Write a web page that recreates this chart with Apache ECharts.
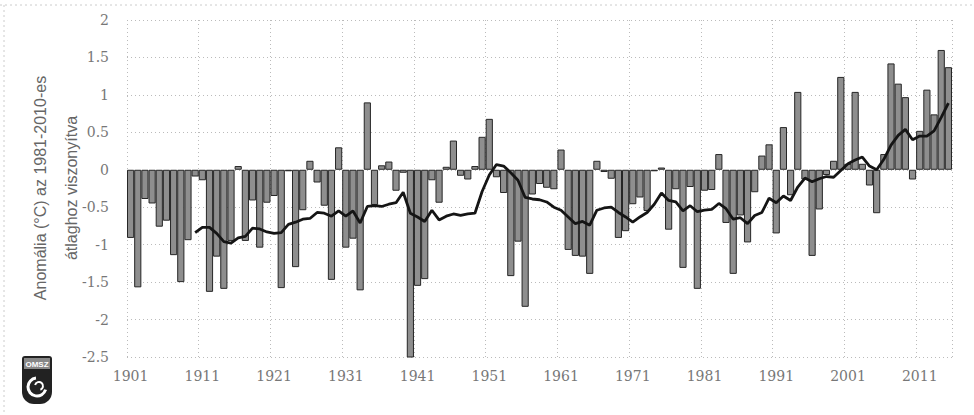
<!DOCTYPE html>
<html>
<head>
<meta charset="utf-8">
<title>Hőmérsékleti anomália 1901-2015</title>
<script src="https://cdn.jsdelivr.net/npm/echarts@6/dist/echarts.min.js"></script>
<style>
  html, body { margin: 0; padding: 0; background: #fff; }
  #chart { width: 974px; height: 415px; }
</style>
</head>
<body>
<div id="chart"></div>
<script>
// évek (kategóriák)
const years = [
  '1901','1902','1903','1904','1905','1906','1907','1908','1909','1910',
  '1911','1912','1913','1914','1915','1916','1917','1918','1919','1920',
  '1921','1922','1923','1924','1925','1926','1927','1928','1929','1930',
  '1931','1932','1933','1934','1935','1936','1937','1938','1939','1940',
  '1941','1942','1943','1944','1945','1946','1947','1948','1949','1950',
  '1951','1952','1953','1954','1955','1956','1957','1958','1959','1960',
  '1961','1962','1963','1964','1965','1966','1967','1968','1969','1970',
  '1971','1972','1973','1974','1975','1976','1977','1978','1979','1980',
  '1981','1982','1983','1984','1985','1986','1987','1988','1989','1990',
  '1991','1992','1993','1994','1995','1996','1997','1998','1999','2000',
  '2001','2002','2003','2004','2005','2006','2007','2008','2009','2010',
  '2011','2012','2013','2014','2015'
];

// évi anomália (°C), 1981-2010-hez képest
const anomaly = [
  -0.91, -1.57, -0.39, -0.45, -0.76, -0.68, -1.14, -1.50, -0.94, -0.09,
  -0.14, -1.63, -1.16, -1.59, -0.95,  0.05, -0.95, -0.41, -1.04, -0.44,
  -0.35, -1.58, -0.02, -1.30, -0.54,  0.12, -0.17, -0.48, -1.47,  0.30,
  -1.04, -0.92, -1.61,  0.90, -0.47,  0.06,  0.11, -0.28, -0.04, -2.51,
  -1.55, -1.46, -0.14, -0.44,  0.04,  0.39, -0.08, -0.13,  0.05,  0.44,
   0.68, -0.10, -0.31, -1.42, -0.96, -1.83, -0.33, -0.19, -0.24, -0.26,
   0.27, -1.07, -1.15, -1.16, -1.39,  0.12, -0.03, -0.12, -0.91, -0.82,
  -0.46, -0.37, -0.55, -0.02,  0.03, -0.80, -0.26, -1.31, -0.23, -1.59,
  -0.28, -0.27,  0.21, -0.71, -1.39, -0.61, -0.97, -0.30,  0.19,  0.34,
  -0.85,  0.57, -0.34,  1.04, -0.13, -1.15, -0.53, -0.07,  0.12,  1.24,
   0.08,  1.04,  0.08, -0.21, -0.58,  0.21,  1.42,  1.15,  0.97, -0.13,
   0.52,  1.07,  0.74,  1.60,  1.37
];

// 10 éves mozgóátlag (fekete vonal), 1910-től
const movingAvg = [
   null,  null,  null,  null,  null,  null,  null,  null,  null, -0.84,
  -0.77, -0.77, -0.85, -0.96, -0.98, -0.91, -0.89, -0.78, -0.79, -0.83,
  -0.85, -0.84, -0.73, -0.70, -0.66, -0.65, -0.57, -0.58, -0.62, -0.55,
  -0.62, -0.55, -0.71, -0.49, -0.48, -0.49, -0.46, -0.44, -0.30, -0.58,
  -0.63, -0.69, -0.54, -0.67, -0.62, -0.59, -0.61, -0.59, -0.58, -0.29,
  -0.07,  0.07,  0.05, -0.04, -0.14, -0.37, -0.39, -0.40, -0.43, -0.50,
  -0.54, -0.63, -0.72, -0.69, -0.74, -0.54, -0.51, -0.50, -0.57, -0.63,
  -0.70, -0.63, -0.57, -0.46, -0.31, -0.41, -0.43, -0.55, -0.48, -0.56,
  -0.54, -0.53, -0.45, -0.52, -0.66, -0.64, -0.72, -0.61, -0.57, -0.38,
  -0.44, -0.35, -0.41, -0.23, -0.11, -0.16, -0.12, -0.09, -0.10, -0.01,
   0.08,  0.13,  0.17,  0.05,  0.00,  0.14,  0.33,  0.46,  0.54,  0.40,
   0.45,  0.45,  0.52,  0.70,  0.89
];

// feliratozott évek az x tengelyen
const xLabels = ['1901','1911','1921','1931','1941','1951','1961','1971','1981','1991','2001','2011'];

const tickFont = 'DejaVu Serif';
const showEvery = (idx, value) => xLabels.indexOf(value) !== -1;

const chart = echarts.init(document.getElementById('chart'), null, { renderer: 'svg' });

const option = {
  animation: false,
  backgroundColor: '#fff',
  grid: { left: 127, right: 22, top: 20, bottom: 58 },
  xAxis: {
    type: 'category',
    data: years,
    boundaryGap: true,
    axisLine: { show: false, onZero: false },
    axisTick: { show: false },
    axisLabel: {
      interval: showEvery,
      margin: 12,
      color: '#777',
      fontFamily: tickFont,
      fontSize: 14
    },
    splitLine: {
      show: true,
      interval: showEvery,
      lineStyle: { color: '#bbb', type: [1, 3], width: 1 }
    }
  },
  yAxis: {
    type: 'value',
    min: -2.5,
    max: 2,
    interval: 0.5,
    axisLine: { show: false },
    axisTick: { show: false },
    axisLabel: {
      margin: 18,
      color: '#777',
      fontFamily: tickFont,
      fontSize: 14
    },
    splitLine: {
      lineStyle: { color: '#bbb', type: [1, 3], width: 1 }
    }
  },
  graphic: [
    // külső pontozott keret
    { type: 'line', shape: { x1: 0, y1: 5, x2: 974, y2: 5 },
      style: { stroke: '#ccc', lineDash: [2, 3], lineWidth: 1 } },
    { type: 'line', shape: { x1: 4, y1: 5, x2: 4, y2: 415 },
      style: { stroke: '#ccc', lineDash: [2, 3], lineWidth: 1 } },
    // tengelycím
    { type: 'text', x: 40, y: 188, rotation: Math.PI / 2,
      style: { text: 'Anomália (°C) az 1981-2010-es', fill: '#666',
               font: '16px "Liberation Sans", Arial, sans-serif',
               textAlign: 'center', textVerticalAlign: 'middle' } },
    { type: 'text', x: 71, y: 188, rotation: Math.PI / 2,
      style: { text: 'átlaghoz viszonyítva', fill: '#666',
               font: '16px "Liberation Sans", Arial, sans-serif',
               textAlign: 'center', textVerticalAlign: 'middle' } },
    // OMSZ logó
    { type: 'rect', shape: { x: 22, y: 356, width: 30, height: 48, r: [3, 3, 12, 12] },
      style: { fill: '#222' } },
    { type: 'rect', shape: { x: 24, y: 358, width: 26, height: 11 },
      style: { fill: '#888' } },
    { type: 'text', x: 37, y: 364,
      style: { text: 'OMSZ', fill: '#fff', font: 'bold 8px "Liberation Sans", Arial, sans-serif',
               textAlign: 'center', textVerticalAlign: 'middle' } },
    { type: 'arc', shape: { cx: 37, cy: 387, r: 9, startAngle: 0.3, endAngle: 4.6 },
      style: { stroke: '#fff', lineWidth: 3, fill: null } },
    { type: 'arc', shape: { cx: 39, cy: 386, r: 4, startAngle: 3.4, endAngle: 7.5 },
      style: { stroke: '#fff', lineWidth: 2, fill: null } }
  ],
  series: [
    {
      name: 'Anomália',
      type: 'bar',
      data: anomaly,
      barCategoryGap: '0%',
      itemStyle: { color: '#8e8e8e', borderColor: '#262626', borderWidth: 1 }
    },
    {
      name: '10 éves mozgóátlag',
      type: 'line',
      data: movingAvg,
      showSymbol: false,
      connectNulls: false,
      lineStyle: { color: '#151515', width: 2.8 },
      z: 5
    }
  ]
};

chart.setOption(option);
</script>
</body>
</html>
